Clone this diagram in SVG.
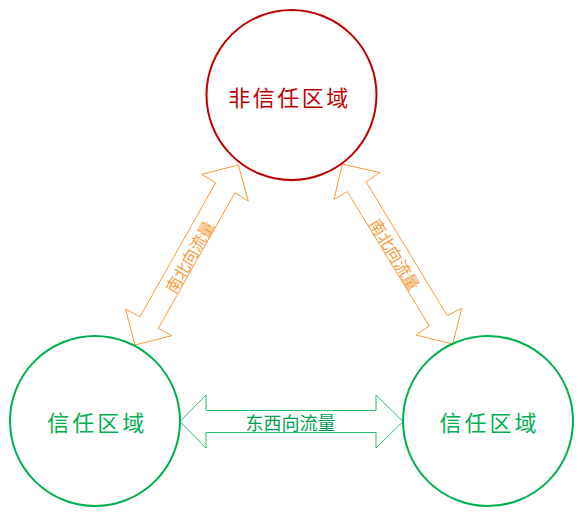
<svg xmlns="http://www.w3.org/2000/svg" width="583" height="517" viewBox="0 0 583 517">
  <style>
    .txt { font-family: "Noto Sans CJK SC", "Noto Sans", sans-serif; text-anchor: middle; dominant-baseline: central; }
    .zone-red { fill: none; stroke: #C00000; stroke-width: 2; }
    .zone-green { fill: none; stroke: #00B050; stroke-width: 2; }
    .lbl-red { fill: #C00000; font-size: 22px; letter-spacing: 2.5px; }
    .lbl-green { fill: #00B050; font-size: 22px; letter-spacing: 3px; }
    .arrow-ns { fill: #FFFFFF; stroke: #F79A3A; stroke-width: 1; stroke-linejoin: miter; }
    .arrow-ew { fill: #FFFFFF; stroke: #2DBE6C; stroke-width: 1; stroke-linejoin: miter; }
    .flow-ns { fill: #F79A3A; font-size: 16px; }
    .flow-ew { fill: #00A050; font-size: 18px; }
  </style>
  <rect width="583" height="517" fill="#FFFFFF"/>
  <g id="connectors">
    <g id="ns-left">
      <polygon class="arrow-ns" points="238.3,165 248.3,201 235,192.7 158.3,328.3 171.7,335.7 135,345 125.7,309.3 140,316.7 215.7,182.7 201.7,174.3"/>
      <text class="txt flow-ns" transform="translate(189,256.5) rotate(-60.2)">南北向流量</text>
    </g>
    <g id="ns-right">
      <polygon class="arrow-ns" points="342.3,164 380,172.7 366,181.7 447.3,315.7 461.7,308.3 452.7,344 416,335 429.3,326 347.3,191.7 334,199.3"/>
      <text class="txt flow-ns" transform="translate(395.5,254) rotate(58.5)">南北向流量</text>
    </g>
    <g id="ew">
      <polygon class="arrow-ew" points="180,421.5 206,395 206,410.5 376,410.5 376,395 403,421.5 376,448 376,432.5 206,432.5 206,448"/>
      <text class="txt flow-ew" x="290.5" y="421.5">东西向流量</text>
    </g>
  </g>
  <g id="untrusted">
    <circle class="zone-red" cx="291.5" cy="95" r="85"/>
    <text class="txt lbl-red" x="289.5" y="95.5">非信任区域</text>
  </g>
  <g id="trusted-left">
    <circle class="zone-green" cx="95" cy="421" r="85"/>
    <text class="txt lbl-green" x="97.3" y="421">信任区域</text>
  </g>
  <g id="trusted-right">
    <circle class="zone-green" cx="488" cy="421" r="85"/>
    <text class="txt lbl-green" x="489.5" y="421">信任区域</text>
  </g>
</svg>
